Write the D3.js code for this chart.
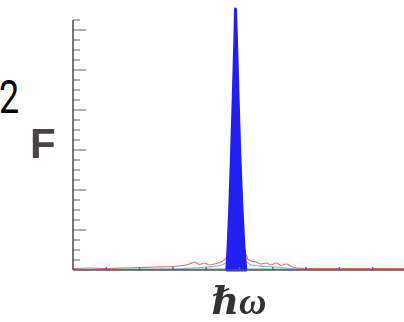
<!DOCTYPE html>
<html>
<head>
<meta charset="utf-8">
<script src="https://cdn.jsdelivr.net/npm/d3@7"></script>
<style>
  body { margin: 0; background: #fff; }
  svg { display: block; }
</style>
</head>
<body>
<script>
// values (x in hbar-omega units, y in F units)
const xTicks = [1, 2, 3, 4, 5, 6, 7, 8, 9];
const yTicks = d3.range(0, 26);          // minor every 1, major every 4

const peakX = [4.62, 4.66, 4.71, 4.76, 4.81, 4.86, 4.88, 4.91, 4.96, 5.01, 5.07, 5.13, 5.19];
const peakY = [0, 2.5, 6.5, 11.5, 17, 23, 26.1, 23, 17, 11.5, 6.5, 2.5, 0];

const redX = [0, 0.5, 1, 1.5, 2, 2.5, 3, 3.3, 3.5, 3.65, 3.8, 3.95, 4.1, 4.25, 4.4, 4.5, 4.6, 5.15, 5.25, 5.35, 5.5, 5.65, 5.8, 5.95, 6.1, 6.25, 6.4, 6.55, 6.7, 7, 8, 9, 10];
const redY = [0.15, 0.2, 0.15, 0.2, 0.25, 0.3, 0.35, 0.45, 0.6, 0.8, 0.55, 0.7, 0.5, 0.6, 0.75, 0.9, 1.2, 1.9, 1.1, 0.9, 0.8, 0.6, 0.7, 0.5, 0.7, 0.45, 0.6, 0.35, 0.2, 0.15, 0.15, 0.15, 0.15];

const blueX = [0, 3, 3.6, 4.0, 4.3, 4.5, 4.6, 5.2, 5.35, 5.5, 5.8, 6.1, 6.5, 7, 10];
const blueY = [0.05, 0.08, 0.2, 0.3, 0.4, 0.55, 0.7, 0.8, 0.5, 0.45, 0.35, 0.3, 0.15, 0.05, 0.05];

const greenX = [0, 4.6, 5.2, 10];
const greenY = [0.05, 0.1, 0.1, 0.05];

const width = 404, height = 322;
const svg = d3.select("body").append("svg")
    .attr("width", width)
    .attr("height", height);

const x = d3.scaleLinear().domain([0, 10]).range([73, 406]);
const y = d3.scaleLinear().domain([0, 25]).range([270, 20]);

const defs = svg.append("defs");
defs.append("filter").attr("id", "soft")
  .append("feGaussianBlur").attr("stdDeviation", 0.6);

const line = d3.line().x(d => x(d[0])).y(d => y(d[1])).curve(d3.curveMonotoneX);

// small curves
svg.append("path")
    .datum(d3.zip(greenX, greenY))
    .attr("d", line)
    .attr("fill", "none")
    .attr("stroke", "#5aa86a")
    .attr("stroke-width", 1.2);

svg.append("path")
    .datum(d3.zip(blueX, blueY))
    .attr("d", line)
    .attr("fill", "none")
    .attr("stroke", "#86aee6")
    .attr("stroke-width", 1.2);

svg.append("path")
    .datum(d3.zip(redX, redY))
    .attr("d", line)
    .attr("fill", "none")
    .attr("stroke", "#d8766c")
    .attr("stroke-width", 1.2);

// main peak
const area = d3.area()
    .x(d => x(d[0]))
    .y0(y(0))
    .y1(d => y(d[1]))
    .curve(d3.curveLinear);

svg.append("path")
    .datum(d3.zip(peakX, peakY))
    .attr("d", area)
    .attr("fill", "#2020f0")
    .attr("stroke", "#2020f0")
    .attr("stroke-width", 3)
    .attr("stroke-linejoin", "round");

// axes
const yAxis = svg.append("g").attr("transform", `translate(${x(0)},0)`);
yAxis.selectAll("line.tick")
  .data(yTicks.filter(d => d > 0))
  .join("line")
    .attr("class", "tick")
    .attr("x1", 0)
    .attr("x2", d => d % 4 === 0 ? 13 : 7)
    .attr("y1", d => y(d))
    .attr("y2", d => y(d))
    .attr("stroke", "#777")
    .attr("stroke-width", 1.2);
yAxis.append("line")
    .attr("y1", y(25)).attr("y2", y(0))
    .attr("stroke", "#666").attr("stroke-width", 1.8);

const xAxis = svg.append("g").attr("transform", `translate(0,${y(0)})`);
xAxis.selectAll("line.tick")
  .data(xTicks)
  .join("line")
    .attr("class", "tick")
    .attr("x1", d => x(d)).attr("x2", d => x(d))
    .attr("y1", 0).attr("y2", -3)
    .attr("stroke", "#666")
    .attr("stroke-width", 1.5);
xAxis.append("line")
    .attr("x1", x(0)).attr("x2", width)
    .attr("stroke", "#555").attr("stroke-width", 1.5);

// labels
svg.append("text")
    .attr("transform", "translate(-1,113) scale(0.78,1)")
    .attr("font-family", "Roboto, sans-serif")
    .attr("font-size", 46)
    .attr("fill", "#000")
    .text("2");

svg.append("text")
    .attr("x", 30).attr("y", 158)
    .attr("font-family", "Liberation Sans, Arial, sans-serif")
    .attr("font-weight", "bold")
    .attr("font-size", 42)
    .attr("fill", "#4a4444")
    .attr("filter", "url(#soft)")
    .text("F");

svg.append("text")
    .attr("x", 239).attr("y", 314)
    .attr("text-anchor", "middle")
    .attr("font-family", "Liberation Serif, DejaVu Serif, serif")
    .attr("font-style", "italic")
    .attr("font-weight", "bold")
    .attr("font-size", 38)
    .attr("fill", "#333")
    .attr("filter", "url(#soft)")
    .text("ℏω");
</script>
</body>
</html>
